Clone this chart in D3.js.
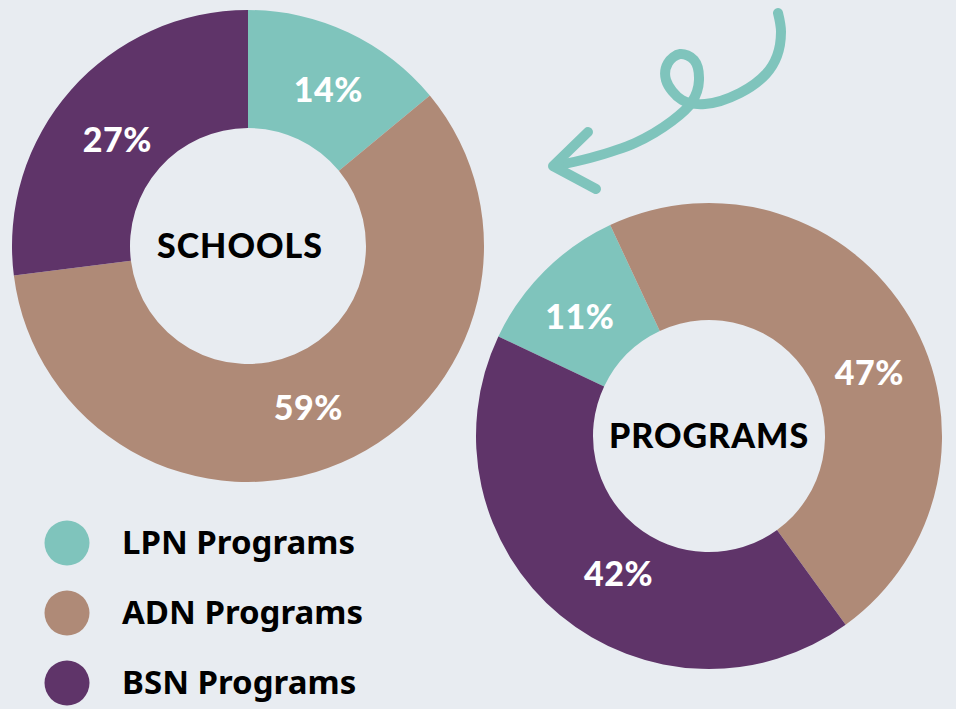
<!DOCTYPE html>
<html>
<head>
<meta charset="utf-8">
<script src="https://cdn.jsdelivr.net/npm/d3@7"></script>
<style>
  html, body { margin: 0; padding: 0; background: #e8ecf1; overflow: hidden; }
  svg { display: block; }
</style>
</head>
<body>
<div id="chart"></div>
<script>
// data
var categories = ["LPN Programs", "ADN Programs", "BSN Programs"];
var schoolsValues = [14, 59, 27];
var programsValues = [11, 47, 42];
var donutTitles = ["SCHOOLS", "PROGRAMS"];
var colors = ["#7fc4bc", "#af8a77", "#5f3469"];

var width = 956, height = 709;

var svg = d3.select("#chart").append("svg")
    .attr("width", width)
    .attr("height", height);

svg.append("rect")
    .attr("width", width)
    .attr("height", height)
    .attr("fill", "#e8ecf1");

var color = d3.scaleOrdinal()
    .domain(categories)
    .range(colors);

// nudge = small hand offsets of the % labels from the arc centroid (as in the original design)
function drawDonut(values, title, cx, cy, rOuter, rInner, startDeg, nudge, titleDx) {
    var rows = categories.map(function (c, i) { return { key: c, value: values[i] }; });

    var pie = d3.pie()
        .sort(null)
        .value(function (d) { return d.value; })
        .startAngle(startDeg * Math.PI / 180)
        .endAngle((startDeg + 360) * Math.PI / 180);

    var arc = d3.arc().innerRadius(rInner).outerRadius(rOuter);

    var g = svg.append("g")
        .attr("transform", "translate(" + cx + "," + cy + ")");

    g.selectAll("path")
        .data(pie(rows))
        .enter().append("path")
        .attr("d", arc)
        .attr("fill", function (d) { return color(d.data.key); });

    g.selectAll(".pct")
        .data(pie(rows))
        .enter().append("text")
        .attr("class", "pct")
        .attr("transform", function (d, i) {
            var c = arc.centroid(d);
            return "translate(" + (c[0] + nudge[i][0]) + "," + (c[1] + nudge[i][1]) + ")";
        })
        .attr("text-anchor", "middle")
        .attr("dy", "0.36em")
        .attr("font-family", "Lato, 'Open Sans', sans-serif")
        .attr("font-weight", 900)
        .attr("font-size", 34)
        .attr("letter-spacing", 0.5)
        .attr("fill", "#ffffff")
        .text(function (d) { return d.data.value + "%"; });

    g.append("text")
        .attr("x", titleDx)
        .attr("text-anchor", "middle")
        .attr("dy", "0.36em")
        .attr("font-family", "Lato, 'Open Sans', sans-serif")
        .attr("font-weight", 900)
        .attr("font-size", 34)
        .attr("letter-spacing", 1)
        .attr("fill", "#000000")
        .text(title);
}

drawDonut(schoolsValues, donutTitles[0], 248, 246, 236, 118, 0,
    [[5, 4], [-10, -1], [2, 11]], -8);
drawDonut(programsValues, donutTitles[1], 709, 436, 233, 116, -64.7,
    [[-6, 4], [10, 25], [21, 3]], 0);

// curly arrow (decoration)
var arrowPts = [[778, 13], [781, 32], [777, 56], [766, 74], [740, 93], [705, 104], [682, 100],
    [666, 80], [668, 63], [680, 54], [694, 60], [699, 80], [692, 102], [672, 121], [635, 143],
    [590, 158], [554, 166]];
var arrowLine = d3.line().curve(d3.curveCatmullRom.alpha(0.5));

svg.append("path")
    .attr("d", arrowLine(arrowPts))
    .attr("fill", "none")
    .attr("stroke", "#7fc4bc")
    .attr("stroke-width", 10)
    .attr("stroke-linecap", "round")
    .attr("stroke-linejoin", "round");

svg.append("path")
    .attr("d", d3.line()([[588, 132], [553, 166], [596, 189]]))
    .attr("fill", "none")
    .attr("stroke", "#7fc4bc")
    .attr("stroke-width", 10)
    .attr("stroke-linecap", "round")
    .attr("stroke-linejoin", "round");

// legend
var legendY = d3.scalePoint()
    .domain(categories)
    .range([543, 683]);

var legend = svg.selectAll(".legend")
    .data(categories)
    .enter().append("g")
    .attr("class", "legend")
    .attr("transform", function (d) { return "translate(0," + legendY(d) + ")"; });

legend.append("circle")
    .attr("cx", 67)
    .attr("cy", 0)
    .attr("r", 22.5)
    .attr("fill", color);

legend.append("text")
    .attr("x", 122)
    .attr("y", 11)
    .attr("font-family", "'Noto Sans', 'Liberation Sans', sans-serif")
    .attr("font-weight", 700)
    .attr("font-size", 33)
    .attr("fill", "#000000")
    .text(function (d) { return d; });
</script>
</body>
</html>
